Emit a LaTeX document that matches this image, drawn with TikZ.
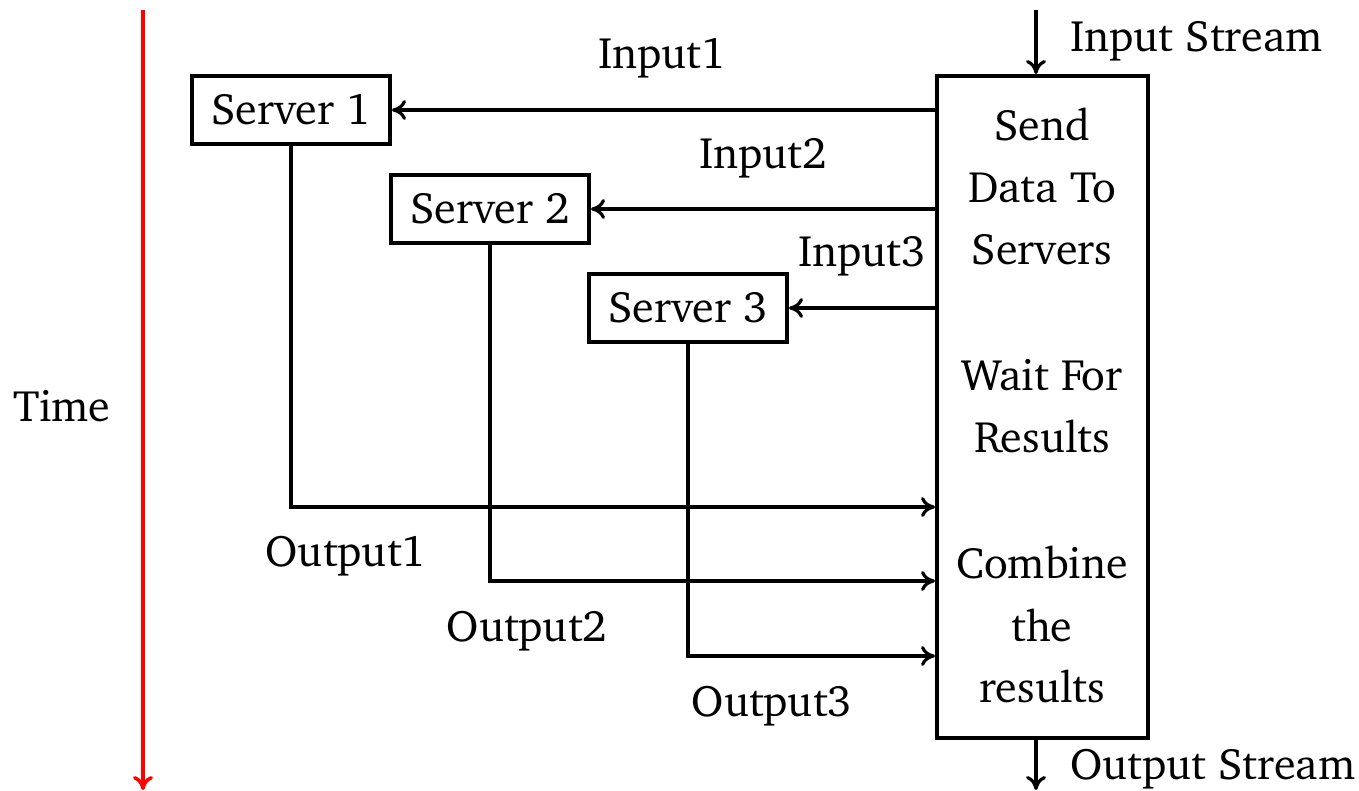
\documentclass[tikz,border=0pt]{standalone}
\usepackage[T1]{fontenc}
\usepackage{charter}
\usetikzlibrary{arrows.meta}
\begin{document}
\begin{tikzpicture}[x=1pt,y=-1pt,
  font=\fontsize{44}{62}\selectfont,
  server/.style={draw,line width=4pt,minimum width=198pt,minimum height=68pt,inner sep=0pt},
  link/.style={line width=3.2pt,-{To[length=14pt,width=20pt]}},
  lbl/.style={inner sep=0pt},
  inbox/.style={align=center,inner sep=0pt}]
\useasboundingbox (0,0) rectangle (1359,791);

% time axis
\draw[red,line width=3.5pt,-{To[length=14pt,width=20pt]}] (143,10) -- (143,790);
\node[lbl] (time) at (62,406) {Time};

% servers
\node[server] (s1) at (291,110) {Server 1};
\node[server] (s2) at (490,209) {Server 2};
\node[server] (s3) at (688,308) {Server 3};

% coordinator
\node[draw,line width=4pt,minimum width=211pt,minimum height=662pt,inner sep=0pt] (hub) at (1042.5,407) {};
\node[inbox] (send) at (1042,187) {Send\\Data To\\Servers};
\node[inbox] (wait) at (1042,406) {Wait For\\Results};
\node[inbox] (comb) at (1042,625) {Combine\\the\\results};

% input and output streams
\coordinate (inTop) at (1036,10);
\coordinate (outEnd) at (1036,790);
\draw[link] (inTop) -- (inTop |- hub.north);
\draw[link] (hub.south -| outEnd) -- (outEnd);
\node[lbl,anchor=west] (instream) at (1070,41) {Input Stream};
\node[lbl,anchor=west] (outstream) at (1070,769) {Output Stream};

% data sent to servers
\draw[link] (hub.west |- s1) -- (s1.east);
\draw[link] (hub.west |- s2) -- (s2.east);
\draw[link] (hub.west |- s3) -- (s3.east);
\node[lbl] (in1) at (662,58) {Input1};
\node[lbl] (in2) at (763,158) {Input2};
\node[lbl] (in3) at (862,256) {Input3};

% results returned
\coordinate (o1) at (0,507);
\coordinate (o2) at (0,581);
\coordinate (o3) at (0,656);
\draw[link] (s1.south) |- (hub.west |- o1);
\draw[link] (s2.south) |- (hub.west |- o2);
\draw[link] (s3.south) |- (hub.west |- o3);
\node[lbl] (out1) at (346,556) {Output1};
\node[lbl] (out2) at (527,631) {Output2};
\node[lbl] (out3) at (772,706) {Output3};
\end{tikzpicture}
\end{document}
